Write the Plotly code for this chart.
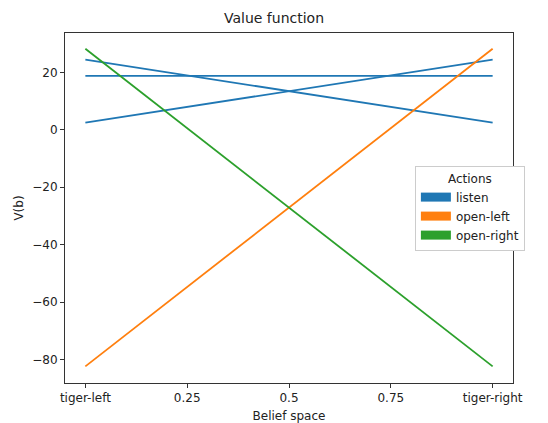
import plotly.graph_objects as go

belief = [0.0, 1.0]
listen_vectors = [[24.4, 2.5], [18.8, 18.8], [2.5, 24.4]]
open_left = [-82.4, 28.2]
open_right = [28.2, -82.4]
x_tickvals = [0, 0.25, 0.5, 0.75, 1.0]
x_ticktext = ["tiger-left", "0.25", "0.5", "0.75", "tiger-right"]
y_tickvals = [-80, -60, -40, -20, 0, 20]
y_ticktext = ["\u221280", "\u221260", "\u221240", "\u221220", "0", "20"]

colors = {"listen": "#1f77b4", "open-left": "#ff7f0e", "open-right": "#2ca02c"}

fig = go.Figure()
for v in listen_vectors:
    fig.add_trace(go.Scatter(x=belief, y=v, mode="lines", line=dict(color=colors["listen"], width=1.8), showlegend=False))
fig.add_trace(go.Scatter(x=belief, y=open_left, mode="lines", line=dict(color=colors["open-left"], width=1.8), showlegend=False))
fig.add_trace(go.Scatter(x=belief, y=open_right, mode="lines", line=dict(color=colors["open-right"], width=1.8), showlegend=False))

for name in ["listen", "open-left", "open-right"]:
    fig.add_trace(go.Scatter(x=[None], y=[None], mode="lines", name=name,
                             line=dict(color=colors[name], width=9), showlegend=True))

font = dict(family="DejaVu Sans", size=12, color="#222222")
fig.update_layout(
    width=548, height=423,
    margin=dict(l=65, r=35, t=33, b=40),
    plot_bgcolor="white", paper_bgcolor="white",
    font=font,
    title=dict(text="Value function", x=0.5, xanchor="center", y=1 - 18 / 423, yanchor="middle",
               font=dict(family="DejaVu Sans", size=14, color="#222222")),
    legend=dict(title=dict(text="Actions", side="top center", font=dict(size=12)),
                x=0.781, y=0.62, xanchor="left", yanchor="top",
                bordercolor="#cccccc", borderwidth=1, bgcolor="white",
                font=dict(size=12), itemwidth=30, tracegroupgap=0),
)
fig.update_xaxes(range=[-0.05, 1.05], tickvals=x_tickvals, ticktext=x_ticktext,
                 showgrid=False, zeroline=False, showline=True, linecolor="#333333", linewidth=1,
                 mirror=True, ticks="outside", ticklen=4, tickcolor="#333333", automargin=False,
                 title=dict(text="Belief space", standoff=8, font=dict(size=12)))
fig.update_yaxes(range=[-88.2, 33.7], tickvals=y_tickvals, ticktext=y_ticktext,
                 showgrid=False, zeroline=False, showline=True, linecolor="#333333", linewidth=1,
                 mirror=True, ticks="outside", ticklen=4, tickcolor="#333333", automargin=False,
                 title=dict(text="V(b)", standoff=6, font=dict(size=12)))

fig.write_html("out.html", config={"displayModeBar": False},
               post_script="document.body.style.margin='0';")
